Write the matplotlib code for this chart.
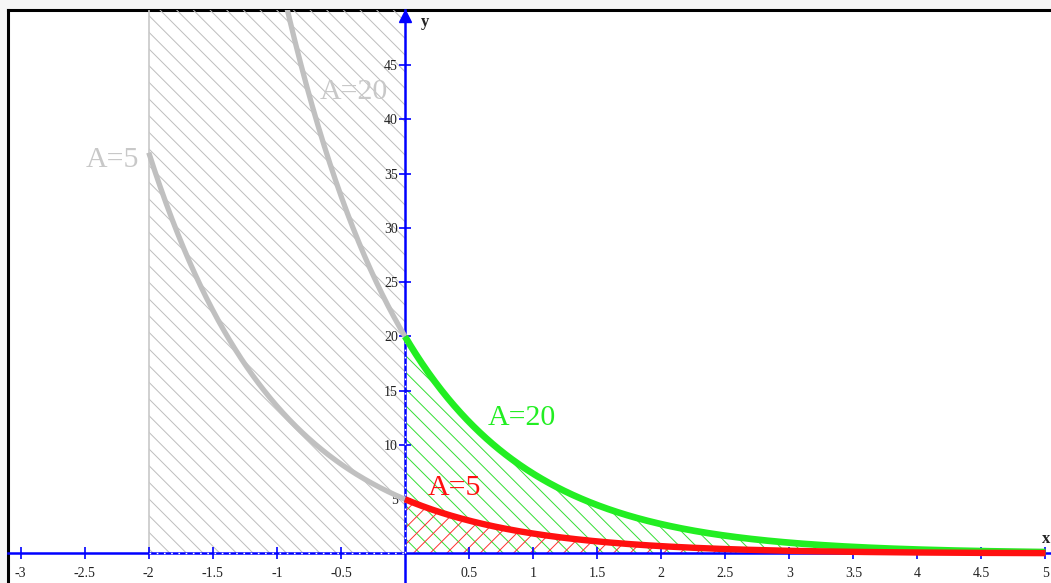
import numpy as np
import matplotlib
matplotlib.use("Agg")
import matplotlib.pyplot as plt

# ---- data ----
amplitudes = [5, 20]            # A values of y = A * exp(-k x)
decay_rate = 1.0                # k
left_domain = [-2.0, 0.0]       # grey (negative-x) part of the curves
right_domain = [0.0, 5.0]       # coloured part of the curves
x_ticks = [-3, -2.5, -2, -1.5, -1, -0.5, 0.5, 1, 1.5, 2, 2.5, 3, 3.5, 4, 4.5, 5]
x_tick_labels = ["-3", "-2.5", "-2", "-1.5", "-1", "-0.5", "0.5", "1", "1.5",
                 "2", "2.5", "3", "3.5", "4", "4.5", "5"]
y_ticks = [5, 10, 15, 20, 25, 30, 35, 40, 45]
y_tick_labels = ["5", "10", "15", "20", "25", "30", "35", "40", "45"]
gray_labels = ["A=5", "A=20"]
color_labels = ["A=5", "A=20"]

plt.rcParams['font.family'] = ['Liberation Serif', 'DejaVu Serif']
plt.rcParams['hatch.linewidth'] = 0.7

W, H = 1051, 583
fig = plt.figure(figsize=(W / 100, H / 100), dpi=100, facecolor='#f6f6f6')
rect = [8 / W, 0, 1 - 8 / W, (H - 10) / H]

frame = fig.add_axes(rect, zorder=0)
frame.set_facecolor('white')
frame.set_xticks([]); frame.set_yticks([])
for s in ['right', 'bottom']:
    frame.spines[s].set_visible(False)
for s in ['top', 'left']:
    frame.spines[s].set_linewidth(2.2)
    frame.spines[s].set_color('black')

ax = fig.add_axes(rect, zorder=1)
ax.patch.set_alpha(0)
xmin, xmax = -3.099, 5.043
ymin, ymax = -2.72, 50.09
ax.set_xlim(xmin, xmax)
ax.set_ylim(ymin, ymax)

blue = '#0000ff'
gray = '#c0c0c0'
green = '#22ee22'
red = '#ff1010'

# ---- grey hatched region (x in [-2, 0]) ----
xl = np.linspace(left_domain[0], left_domain[1], 400)
ax.fill_between([left_domain[0], left_domain[1]], 0, ymax, facecolor='none',
                edgecolor='#bdbdbd', hatch='\\\\', linewidth=0, zorder=1)
ax.plot([left_domain[0], left_domain[0]], [0, ymax], color='#c8c8c8', lw=1.2, zorder=1.5)

# ---- coloured hatched regions ----
xr = np.linspace(right_domain[0], right_domain[1], 600)
A_small, A_big = amplitudes
ax.fill_between(xr, 0, A_big * np.exp(-decay_rate * xr), facecolor='none',
                edgecolor='#33dd33', hatch='\\\\', linewidth=0, zorder=1)
ax.fill_between(xr, 0, A_small * np.exp(-decay_rate * xr), facecolor='none',
                edgecolor='#ff3030', hatch='//', linewidth=0, zorder=1.2)

# ---- axes lines (spines at data 0) ----
for s in ['top', 'right']:
    ax.spines[s].set_visible(False)
ax.spines['left'].set_position(('data', 0))
ax.spines['bottom'].set_position(('data', 0))
for s in ['left', 'bottom']:
    ax.spines[s].set_color(blue)
    ax.spines[s].set_linewidth(1.8)
    ax.spines[s].set_zorder(2)

# dashed look where the hatched regions border the axes
ax.plot([left_domain[0], left_domain[1]], [0, 0], color='white', lw=1.0,
        dashes=(1.2, 4), zorder=2.5)
ax.plot([0, 0], [0, A_big], color='white', lw=1.0, dashes=(1.2, 4), zorder=2.5)

ax.set_xticks(x_ticks)
ax.set_xticklabels(x_tick_labels)
ax.set_yticks(y_ticks)
ax.set_yticklabels(y_tick_labels)
ax.tick_params(axis='both', direction='inout', length=8, width=1.2, color=blue,
               labelsize=10, labelcolor='#222222')
ax.tick_params(axis='x', pad=6)
ax.tick_params(axis='y', pad=1)

# y-axis arrow
ax.plot([0], [49.5], marker='^', color=blue, markersize=9, clip_on=False, zorder=5)
ax.text(0.16, 49.0, 'y', fontsize=12, fontweight='bold', color='#222222',
        ha='center', va='center')
ax.text(5.035, 1.3, 'x', fontsize=12, fontweight='bold', color='#222222',
        ha='right', va='center')

# ---- curves ----
for A in amplitudes:
    ax.plot(xl, A * np.exp(-decay_rate * xl), color=gray, lw=3.8,
            solid_capstyle='butt', zorder=3)
ax.plot(xr, A_big * np.exp(-decay_rate * xr), color=green, lw=4.8,
        solid_capstyle='butt', zorder=3.2)
ax.plot(xr, A_small * np.exp(-decay_rate * xr), color=red, lw=4.6,
        solid_capstyle='butt', zorder=3.3)

# ---- labels ----
fs = 21.5
ax.text(-2.285, 36.3, gray_labels[0], fontsize=fs, color='#c8c8c8', ha='center', va='center')
ax.text(-0.398, 42.5, gray_labels[1], fontsize=fs, color='#c8c8c8', ha='center', va='center')
ax.text(0.914, 12.5, color_labels[1], fontsize=fs, color=green, ha='center', va='center')
ax.text(0.383, 6.04, color_labels[0], fontsize=fs, color=red, ha='center', va='center')

fig.savefig('out.png', dpi=100, facecolor=fig.get_facecolor())
